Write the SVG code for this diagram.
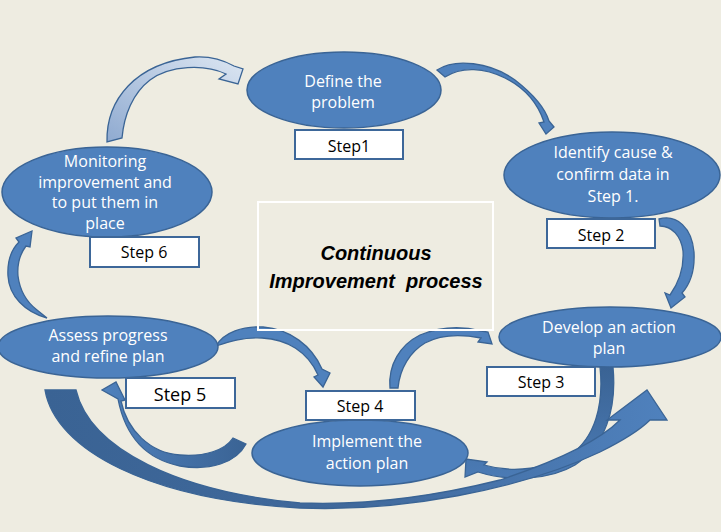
<svg xmlns="http://www.w3.org/2000/svg" width="721" height="532" viewBox="0 0 721 532">
<style>
.bg{fill:#EEECE1}
.ell{fill:#4F81BD;stroke:#3A6495;stroke-width:1.5}
.box{fill:#FFFFFF;stroke:#3D6799;stroke-width:2}
.et{font-family:"Open Sans","Liberation Sans",sans-serif;font-size:16px;fill:#FFFFFF;text-anchor:middle}
.st{font-family:"Open Sans","Liberation Sans",sans-serif;font-size:16px;fill:#000000;text-anchor:middle}
.ttl{font-family:"Liberation Sans",Arial,sans-serif;font-size:20px;font-weight:bold;font-style:italic;fill:#000000;text-anchor:middle;white-space:pre}
.arr{stroke:#3A6495;stroke-width:1.3;stroke-linejoin:miter}
</style>
<defs>
<linearGradient id="gLight" x1="0" y1="1" x2="1" y2="0">
<stop offset="0" stop-color="#8FAAD0"/>
<stop offset="1" stop-color="#DCE6F2"/>
</linearGradient>
<linearGradient id="gBig" x1="0" y1="0" x2="1" y2="0">
<stop offset="0" stop-color="#3A6394"/>
<stop offset="0.5" stop-color="#40699C"/>
<stop offset="1" stop-color="#4F81BD"/>
</linearGradient>
<linearGradient id="gDown" x1="0" y1="0" x2="0" y2="1">
<stop offset="0" stop-color="#3A6394"/>
<stop offset="1" stop-color="#4B7BB5"/>
</linearGradient>
<linearGradient id="gLeft" x1="1" y1="0" x2="0" y2="0">
<stop offset="0" stop-color="#3A6394"/>
<stop offset="1" stop-color="#4F81BD"/>
</linearGradient>
</defs>
<rect class="bg" x="0" y="0" width="721" height="532"/>

<g id="connectors">
<!-- Step6 -> Step1 (light) -->
<path class="arr" fill="url(#gLight)" d="M107,142 C106,100 135,63 195,57 C212,56 225,61 234,66 L243,69 L238,84 L219,79 L226,74 C205,64 170,65 150,80 C133,93 124,115 122,138 Z"/>
<!-- Step1 -> Step2 -->
<path class="arr" fill="#4F81BD" d="M437,70 C455,58 490,62 515,80 C533,94 545,108 549,121 L554,127 L546,134 L539,123 L544,122 C538,104 525,88 505,78 C485,68 462,66 445,77 Z"/>
<!-- Step2 -> Step3 -->
<path class="arr" fill="#4F81BD" d="M659,219 C677,214 692,228 694,252 C695,270 690,284 682,293 L685,297 L671,308 L665,293 L670,295 C680,281 684,266 683,251 C681,236 672,226 660,226 Z"/>
<!-- Step5 -> Step6 -->
<path class="arr" fill="#4F81BD" d="M47,318 C25,312 9,296 8,276 C7,259 12,249 19,242 L16,238 L32,231 L30,247 L26,246 C20,254 17,264 18,276 C20,292 28,303 37,310 Z"/>
<!-- Step5 -> Step4 -->
<path class="arr" fill="#4F81BD" d="M216,346 C224,332 243,326 263,327 C290,329 312,346 322,369 L330,373 L323,387 L314,377 L318,375 C308,352 287,339 262,338 C243,337 228,342 216,346 Z"/>
<!-- Step4 -> Step3 -->
<path class="arr" fill="#4F81BD" d="M390,388 C388,365 400,345 420,335 C440,327 462,326 481,331 L488,332 L492,344 L478,342 L481,338 C460,334 440,335 425,343 C410,352 400,368 398,388 Z"/>
<!-- Step3 -> Step4 (lower) -->
<path class="arr" fill="url(#gDown)" d="M613,367 C617,410 605,445 575,465 C550,480 510,482 478,472 L465,477 L466,459 L487,462 L484,465 C515,474 548,468 570,455 C595,438 604,405 600,367 Z"/>
<!-- Step4 -> Step5 (lower) -->
<path class="arr" fill="url(#gLeft)" d="M246,444 C236,463 210,471 180,466 C150,460 126,440 118,399 L102,390 L116,382 L125,400 L121,401 C127,430 150,453 180,455 C205,457 225,450 233,438 Z"/>
<!-- big bottom arrow Step5 -> Step3 -->
<path class="arr" fill="url(#gBig)" d="M45,390 C55,450 150,500 300,508 C400,512 520,490 600,452 C620,442 640,430 650,420 L667,420 L647,390 L607,420 L620,420 C600,440 560,460 500,480 C420,500 350,505 300,503 C180,492 90,450 76,390 Z"/>
</g>

<g id="title">
<rect x="258" y="202" width="235" height="128" fill="none" stroke="#FFFFFF" stroke-width="2"/>
<text class="ttl" x="376" y="260">Continuous</text>
<text class="ttl" x="376" y="288" xml:space="preserve">Improvement  process</text>
</g>

<g id="step1">
<ellipse class="ell" cx="344" cy="90" rx="97" ry="38"/>
<text class="et" x="343" y="87">Define the</text>
<text class="et" x="343" y="108">problem</text>
<rect class="box" x="295" y="130" width="108" height="29"/>
<text class="st" x="349" y="152">Step1</text>
</g>

<g id="step2">
<ellipse class="ell" cx="612" cy="175" rx="108" ry="43"/>
<text class="et" x="613" y="158">Identify cause &amp;</text>
<text class="et" x="613" y="180">confirm data in</text>
<text class="et" x="613" y="202">Step 1.</text>
<rect class="box" x="547" y="219" width="108" height="29"/>
<text class="st" x="601" y="241">Step 2</text>
</g>

<g id="step3">
<ellipse class="ell" cx="610" cy="337" rx="111" ry="30"/>
<text class="et" x="609" y="333">Develop an action</text>
<text class="et" x="609" y="354">plan</text>
<rect class="box" x="487" y="367" width="108" height="29"/>
<text class="st" x="541" y="388">Step 3</text>
</g>

<g id="step4">
<ellipse class="ell" cx="360" cy="453" rx="108" ry="33"/>
<text class="et" x="367" y="447">Implement the</text>
<text class="et" x="367" y="469">action plan</text>
<rect class="box" x="306" y="391" width="109" height="29"/>
<text class="st" x="360" y="412">Step 4</text>
</g>

<g id="step5">
<ellipse class="ell" cx="108" cy="347" rx="110" ry="31"/>
<text class="et" x="108" y="341">Assess progress</text>
<text class="et" x="108" y="362">and refine plan</text>
<rect class="box" x="126" y="378" width="109" height="30"/>
<text class="st" x="180" y="401" style="font-size:18px">Step 5</text>
</g>

<g id="step6">
<ellipse class="ell" cx="107" cy="192" rx="105" ry="45"/>
<text class="et" x="105" y="167">Monitoring</text>
<text class="et" x="105" y="188">improvement and</text>
<text class="et" x="105" y="208">to put them in</text>
<text class="et" x="105" y="229">place</text>
<rect class="box" x="90" y="237" width="109" height="30"/>
<text class="st" x="144" y="258">Step 6</text>
</g>
</svg>
